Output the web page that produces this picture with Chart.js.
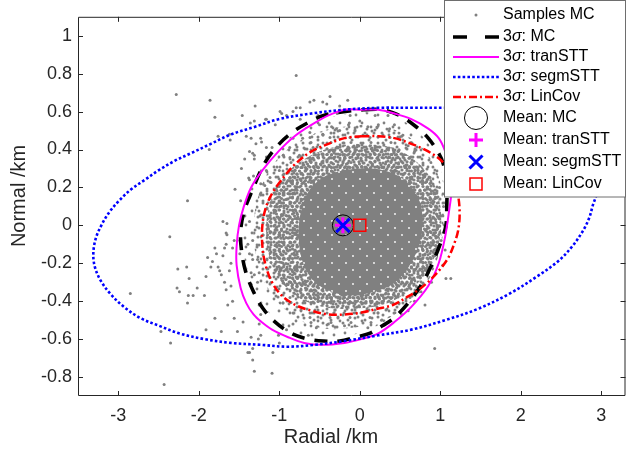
<!DOCTYPE html>
<html>
<head>
<meta charset="utf-8">
<script src="https://cdn.jsdelivr.net/npm/chart.js@4.4.1/dist/chart.umd.min.js"></script>
<style>
    html, body { margin: 0; padding: 0; background: #fff; }
</style>
</head>
<body>
<canvas id="chart" width="638" height="457"></canvas>
<script>
// --- Ejes ---
const xTicks = [-3, -2, -1, 0, 1, 2, 3];
const yTicks = [-0.8, -0.6, -0.4, -0.2, 0, 0.2, 0.4, 0.6, 0.8, 1];
const xTitle = "Radial /km";
const yTitle = "Normal /km";

// --- Muestras MC (puntos sueltos) ---
const samplesMC = [
    [-2.28, 0.69], [-1.86, 0.66], [-1.80, 0.57], [-1.46, 0.58], [-1.30, 0.63], [-1.36, 0.54], [-1.31, 0.55],
    [-1.62, 0.48], [-1.76, 0.47], [-1.61, 0.45], [-1.41, 0.47], [-1.35, 0.46], [-1.23, 0.46], [-1.29, 0.43],
    [-1.87, 0.40], [-1.33, 0.38], [-1.31, 0.37], [-1.43, 0.35], [-1.31, 0.35], [-1.47, 0.30], [-1.32, 0.26],
    [-1.38, 0.25], [-1.23, 0.22], [-1.55, 0.19], [-2.14, 0.13], [-1.48, 0.13], [-1.23, 0.16],
    [-0.79, 0.79], [-0.37, 0.68], [-0.62, 0.65], [-0.57, 0.66], [-0.46, 0.65], [-0.41, 0.64], [-0.15, 0.66],
    [-0.25, 0.63], [-0.99, 0.60], [-0.91, 0.58], [-0.83, 0.60], [-0.74, 0.62], [-0.52, 0.58], [-0.28, 0.59],
    [-0.12, 0.58], [0.00, 0.55], [0.19, 0.58], [0.35, 0.58], [0.43, 0.53], [0.37, 0.51], [-1.17, 0.56],
    [-1.05, 0.53], [-1.22, 0.44], [-1.09, 0.41], [-0.74, 0.56], [-0.35, 0.52], [-0.25, 0.50], [-0.14, 0.53],
    [0.10, 0.52], [0.23, 0.53], [0.52, 0.47], [0.60, 0.42], [0.68, 0.39], [0.72, 0.29], [0.81, 0.26],
    [0.83, 0.23], [0.68, 0.26], [0.89, 0.18], [0.93, 0.14], [0.85, 0.12], [0.66, 0.36], [0.48, 0.33],
    [-1.16, 0.56], [-0.97, 0.59], [-0.79, 0.62], [-2.36, -0.06], [-1.70, 0.02], [-1.66, -0.04], [-1.37, 0.39],
    [-1.37, 0.24], [-1.16, 0.36], [-1.16, 0.41], [-1.16, 0.29], [-1.18, 0.21], [-1.00, 0.29], [-0.95, 0.37],
    [-0.87, 0.41], [-0.83, 0.46], [-0.71, 0.46], [-0.62, 0.49], [-0.50, 0.53], [-0.38, 0.54], [-0.29, 0.51],
    [-0.13, 0.54], [-0.46, 0.48], [-0.58, 0.41], [-0.75, 0.37], [-1.04, 0.19], [-1.08, 0.12], [-1.24, 0.05],
    [-1.37, 0.02], [-1.33, -0.08], [-1.49, -0.15], [-1.66, -0.10], [-1.78, -0.15],
    [-2.26, -0.23], [-2.15, -0.22], [-2.12, -0.28], [-2.27, -0.33], [-2.24, -0.35], [-2.13, -0.37], [-2.07, -0.37],
    [-2.14, -0.41], [-2.02, -0.33], [-2.85, -0.36], [-2.47, -0.56], [-2.35, -0.62], [-2.43, -0.84], [-1.93, -0.37],
    [-1.91, -0.55], [-1.89, -0.17], [-1.83, -0.19], [-1.85, -0.22], [-1.91, -0.27], [-1.80, -0.12], [-1.76, -0.22],
    [-1.74, -0.24], [-1.72, -0.26], [-1.65, 0.01], [-1.65, -0.05], [-1.68, -0.12], [-1.70, -0.16], [-1.68, -0.30],
    [-1.66, -0.34], [-1.64, -0.42], [-1.80, -0.49], [-1.72, -0.56], [-1.56, -0.49], [-1.52, -0.56], [-1.45, -0.51],
    [-1.35, -0.59], [-1.37, -0.67], [-1.33, -0.71], [-1.31, -0.77], [-1.33, -0.65], [-1.60, -0.32], [-1.58, -0.40],
    [-1.62, -0.24], [-1.60, -0.20], [-1.58, -0.12], [-1.56, -0.08], [-1.49, -0.08], [-1.39, -0.10], [-1.37, -0.15],
    [-1.35, -0.25], [-1.31, -0.26], [-1.33, -0.18], [-1.27, -0.18], [-1.25, -0.25], [-1.27, -0.30], [-1.35, -0.31],
    [-1.25, -0.42], [-1.23, -0.47], [-1.23, -0.58], [-1.25, -0.52], [-1.26, -0.60], [-1.39, -0.67], [-1.08, -0.67],
    [-1.00, -0.62], [-1.09, -0.78],
    [0.93, -0.65], [0.81, -0.42], [0.89, -0.30], [1.03, -0.21], [1.01, -0.08], [-1.01, -0.58], [-0.91, -0.55],
    [-0.64, -0.58], [-0.83, -0.52], [-0.54, -0.54], [-0.39, -0.52], [-0.19, -0.53], [0.10, -0.54], [0.27, -0.50],
    [0.52, -0.47], [0.68, -0.40], [0.60, -0.45], [0.76, -0.35], [0.85, -0.25], [0.93, -0.16], [0.91, -0.08],
    [0.97, -0.01], [1.01, 0.05], [1.07, -0.28], [1.13, -0.28], [1.04, 0.10], [1.06, -0.13], [0.99, 0.20]
];

// --- Densidad de la nube MC (contornos) ---
const cloudSparse = [
    [0.00, 0.60], [0.45, 0.57], [0.80, 0.46], [1.00, 0.30], [1.06, 0.10], [1.02, -0.08], [0.88, -0.25],
    [0.62, -0.40], [0.30, -0.51], [-0.10, -0.58], [-0.50, -0.60], [-0.85, -0.56], [-1.15, -0.45], [-1.35, -0.30],
    [-1.45, -0.12], [-1.45, 0.05], [-1.35, 0.20], [-1.15, 0.35], [-0.85, 0.47], [-0.45, 0.56], [0.00, 0.60]
];
const cloudMid = [
    [0.00, 0.53], [0.40, 0.51], [0.75, 0.42], [0.96, 0.28], [1.04, 0.10], [1.01, -0.08], [0.90, -0.25],
    [0.65, -0.40], [0.30, -0.50], [-0.10, -0.54], [-0.50, -0.54], [-0.85, -0.47], [-1.12, -0.35], [-1.28, -0.18],
    [-1.32, 0.00], [-1.25, 0.17], [-1.08, 0.32], [-0.80, 0.43], [-0.45, 0.50], [0.00, 0.53]
];
const cloudDense = [
    [0.00, 0.43], [0.40, 0.41], [0.72, 0.33], [0.93, 0.21], [1.01, 0.06], [0.99, -0.08], [0.88, -0.21],
    [0.68, -0.32], [0.35, -0.41], [-0.05, -0.44], [-0.45, -0.43], [-0.80, -0.37], [-1.05, -0.25], [-1.15, -0.10],
    [-1.15, 0.05], [-1.05, 0.18], [-0.85, 0.30], [-0.55, 0.38], [-0.25, 0.42], [0.00, 0.43]
];
const cloudCore = [
    [-0.72, 0.09], [-0.65, 0.17], [-0.50, 0.24], [-0.30, 0.28], [0.00, 0.30], [0.30, 0.29], [0.52, 0.25],
    [0.68, 0.18], [0.76, 0.10], [0.78, 0.00], [0.73, -0.11], [0.62, -0.21], [0.44, -0.30], [0.18, -0.35],
    [-0.13, -0.37], [-0.41, -0.34], [-0.60, -0.28], [-0.72, -0.18], [-0.76, -0.06], [-0.75, 0.03], [-0.72, 0.09]
];

// --- Elipses 3 sigma ---
const ellipseMC = [
    [0.05, 0.61], [0.27, 0.61], [0.49, 0.58], [0.70, 0.52], [0.85, 0.46], [0.98, 0.38], [1.04, 0.32],
    [1.08, 0.22], [1.08, 0.10], [1.07, 0.00], [1.03, -0.06], [0.97, -0.13], [0.88, -0.22], [0.77, -0.31],
    [0.60, -0.41], [0.42, -0.49], [0.28, -0.53], [0.12, -0.57], [-0.05, -0.59], [-0.25, -0.61], [-0.45, -0.61],
    [-0.64, -0.60], [-0.85, -0.57], [-1.05, -0.51], [-1.20, -0.44], [-1.32, -0.35], [-1.42, -0.24], [-1.47, -0.13],
    [-1.48, -0.03], [-1.44, 0.07], [-1.35, 0.17], [-1.18, 0.33], [-1.00, 0.43], [-0.84, 0.49], [-0.65, 0.54],
    [-0.45, 0.58], [-0.20, 0.60], [0.05, 0.61]
];
const ellipseTranSTT = [
    [0.02, 0.61], [0.23, 0.61], [0.43, 0.59], [0.64, 0.56], [0.85, 0.51], [0.98, 0.46], [1.06, 0.39],
    [1.12, 0.29], [1.14, 0.19], [1.11, 0.08], [1.06, -0.06], [0.98, -0.20], [0.85, -0.32], [0.64, -0.43],
    [0.43, -0.51], [0.23, -0.57], [0.02, -0.60], [-0.19, -0.62], [-0.47, -0.63], [-0.69, -0.62], [-0.89, -0.59],
    [-1.09, -0.55], [-1.22, -0.51], [-1.32, -0.47], [-1.41, -0.41], [-1.48, -0.33], [-1.53, -0.21], [-1.53, -0.11],
    [-1.50, 0.00], [-1.44, 0.10], [-1.35, 0.20], [-1.21, 0.29], [-1.01, 0.39], [-0.81, 0.47], [-0.60, 0.53],
    [-0.39, 0.58], [-0.19, 0.61], [0.02, 0.61]
];
const ellipseSegmSTT = [
    [2.89, 0.10], [2.96, 0.20], [2.93, 0.30], [2.80, 0.40], [2.55, 0.50], [2.20, 0.57], [1.80, 0.61],
    [1.45, 0.62], [1.06, 0.62], [0.64, 0.62], [0.23, 0.62], [-0.19, 0.61], [-0.60, 0.59], [-1.01, 0.56],
    [-1.30, 0.52], [-1.60, 0.48], [-1.85, 0.43], [-2.10, 0.38], [-2.30, 0.34], [-2.50, 0.29], [-2.67, 0.24],
    [-2.84, 0.19], [-2.99, 0.13], [-3.11, 0.07], [-3.21, 0.00], [-3.28, -0.07], [-3.31, -0.15], [-3.29, -0.22],
    [-3.22, -0.29], [-3.10, -0.36], [-2.93, -0.43], [-2.72, -0.49], [-2.49, -0.53], [-2.24, -0.57], [-1.93, -0.60],
    [-1.60, -0.62], [-1.23, -0.63], [-0.90, -0.64], [-0.55, -0.63], [-0.19, -0.61], [0.23, -0.58], [0.64, -0.55],
    [1.06, -0.50], [1.47, -0.44], [1.86, -0.36], [2.20, -0.27], [2.46, -0.19], [2.64, -0.11], [2.77, -0.03],
    [2.85, 0.04], [2.89, 0.10]
];
const ellipseLinCov = [
    [0.02, 0.47], [0.23, 0.47], [0.43, 0.46], [0.64, 0.43], [0.85, 0.39], [1.04, 0.33], [1.16, 0.25],
    [1.22, 0.16], [1.24, 0.06], [1.22, -0.03], [1.17, -0.10], [1.10, -0.17], [1.00, -0.23], [0.87, -0.29],
    [0.73, -0.34], [0.58, -0.38], [0.41, -0.42], [0.22, -0.44], [0.02, -0.46], [-0.19, -0.47], [-0.39, -0.47],
    [-0.60, -0.45], [-0.80, -0.42], [-0.97, -0.37], [-1.09, -0.30], [-1.17, -0.21], [-1.21, -0.11], [-1.21, 0.00],
    [-1.17, 0.09], [-1.10, 0.16], [-0.99, 0.23], [-0.81, 0.32], [-0.60, 0.39], [-0.39, 0.43], [-0.19, 0.46],
    [0.02, 0.47]
];

// --- Medias ---
const meanMC = [-0.21, 0.0];
const meanTranSTT = [-0.21, 0.0];
const meanSegmSTT = [-0.21, 0.0];
const meanLinCov = [0.0, 0.0];

const legendLabels = [
    "Samples MC", "3σ: MC", "3σ: tranSTT", "3σ: segmSTT", "3σ: LinCov",
    "Mean: MC", "Mean: tranSTT", "Mean: segmSTT", "Mean: LinCov"
];

// --- Estilos ---
const axisColor = "#262626";
const sampleColor = "#808080";
const fontFamily = "'Liberation Sans', Arial, sans-serif";

function makePattern(size, dots, r, color, bg) {
    const c = document.createElement("canvas");
    c.width = size;
    c.height = size;
    const g = c.getContext("2d");
    if (bg) {
        g.fillStyle = bg;
        g.fillRect(0, 0, size, size);
    }
    g.fillStyle = color;
    dots.forEach(([x, y]) => {
        g.beginPath();
        g.arc(x, y, r, 0, Math.PI * 2);
        g.fill();
    });
    return g.createPattern(c, "repeat");
}

const ctx0 = document.getElementById("chart").getContext("2d");
// texturas de puntos para las zonas densas (dos periodos superpuestos rompen la regularidad)
const patSparse = makePattern(22, [[4, 5], [15, 3], [10, 13], [19, 17], [3, 18]], 1.4, sampleColor);
const patMidA = makePattern(20, [[3, 3], [11, 2.5], [17, 7], [7, 9], [14, 13], [3, 15], [10, 17.5], [18, 17], [15, 10]], 1.5, sampleColor);
const patMidB = makePattern(17, [[4, 7], [12, 4], [8, 14], [15, 12]], 1.5, sampleColor);
const patDenseA = makePattern(16, [[2, 2], [7, 1.8], [12, 3], [4.5, 6], [9.5, 6.5], [14, 7.5], [2, 10], [7, 10.5],
    [11.5, 11], [4, 14], [9, 14.2], [14, 13.5]], 1.6, sampleColor);
const patDenseB = makePattern(13, [[2, 4], [6.5, 2], [11, 5], [4, 9], [8.5, 8], [11, 11], [2, 11.5], [6.5, 11.5]], 1.6, sampleColor);
const patCore = makePattern(14, [[3, 4], [10, 11]], 0.9, "#ffffff", sampleColor);

const toXY = (arr) => arr.map(([x, y]) => ({ x, y }));

function ellipseSet(data, color, width, dash) {
    return {
        data: toXY(data),
        borderColor: color,
        borderWidth: width,
        borderDash: dash,
        pointRadius: 0,
        fill: false,
        tension: 0.35,
        showLine: true,
    };
}

function cloudSet(data, pattern) {
    return {
        data: toXY(data),
        borderColor: "transparent",
        borderWidth: 0,
        backgroundColor: pattern,
        pointRadius: 0,
        fill: "shape",
        tension: 0.35,
        showLine: true,
    };
}

function meanSet(point, style, color, radius, width) {
    return {
        data: toXY([point]),
        showLine: false,
        pointStyle: style,
        pointRadius: radius,
        pointBorderColor: color,
        pointBackgroundColor: "transparent",
        pointBorderWidth: width,
    };
}

// indice 0 se dibuja encima
const datasets = [
    meanSet(meanLinCov, "rect", "#ff0000", 8.5, 1.5),
    meanSet(meanSegmSTT, "crossRot", "#0000ff", 9.5, 3),
    meanSet(meanTranSTT, "cross", "#ff00ff", 8, 3),
    meanSet(meanMC, "circle", "#000000", 10.5, 1),
    ellipseSet(ellipseLinCov, "#ff0000", 2.5, [8, 3, 2, 3]),
    ellipseSet(ellipseSegmSTT, "#0000ff", 2.6, [2.6, 2.2]),
    ellipseSet(ellipseTranSTT, "#ff00ff", 2, []),
    ellipseSet(ellipseMC, "#000000", 3.6, [13, 10]),
    {
        data: toXY(samplesMC),
        showLine: false,
        pointRadius: 1.5,
        pointBorderWidth: 0,
        pointBackgroundColor: sampleColor,
        pointBorderColor: sampleColor,
    },
    cloudSet(cloudCore, patCore),
    cloudSet(cloudDense, patDenseB),
    cloudSet(cloudDense, patDenseA),
    cloudSet(cloudMid, patMidB),
    cloudSet(cloudMid, patMidA),
    cloudSet(cloudSparse, patSparse),
];

// --- Caja, marcas hacia dentro y títulos de ejes ---
const boxPlugin = {
    id: "matlabBox",
    afterDatasetsDraw(chart) {
        const { ctx, chartArea: a, scales: { x, y } } = chart;
        ctx.save();
        ctx.strokeStyle = axisColor;
        ctx.lineWidth = 1;
        ctx.beginPath();
        ctx.rect(a.left + 0.5, a.top + 0.5, a.right - a.left - 1, a.bottom - a.top - 1);
        xTicks.forEach((v) => {
            const px = Math.round(x.getPixelForValue(v)) + 0.5;
            ctx.moveTo(px, a.bottom);
            ctx.lineTo(px, a.bottom - 5);
            ctx.moveTo(px, a.top);
            ctx.lineTo(px, a.top + 5);
        });
        yTicks.forEach((v) => {
            const py = Math.round(y.getPixelForValue(v)) + 0.5;
            ctx.moveTo(a.left, py);
            ctx.lineTo(a.left + 5, py);
            ctx.moveTo(a.right, py);
            ctx.lineTo(a.right - 5, py);
        });
        ctx.stroke();

        ctx.fillStyle = axisColor;
        ctx.font = "20px " + fontFamily;
        ctx.textAlign = "center";
        ctx.textBaseline = "alphabetic";
        ctx.fillText(xTitle, 331, 443);
        ctx.translate(19, 196);
        ctx.rotate(-Math.PI / 2);
        ctx.textBaseline = "middle";
        ctx.fillText(yTitle, 0, 0);
        ctx.restore();
    },
};

// --- Leyenda estilo MATLAB ---
const legendRows = [
    { kind: "dot", y: 15 },
    { kind: "line", y: 37, color: "#000000", width: 3.6, dash: [14, 18] },
    { kind: "line", y: 57, color: "#ff00ff", width: 2, dash: [] },
    { kind: "line", y: 77, color: "#0000ff", width: 2.6, dash: [2.6, 2.2] },
    { kind: "line", y: 97, color: "#ff0000", width: 2.5, dash: [8, 3, 2, 3] },
    { kind: "circle", y: 118 },
    { kind: "plus", y: 140 },
    { kind: "x", y: 162 },
    { kind: "square", y: 184 },
];

function drawLabel(ctx, text, x, y) {
    const parts = text.split("σ");
    ctx.font = "16px " + fontFamily;
    ctx.fillText(parts[0], x, y);
    if (parts.length < 2) return;
    x += ctx.measureText(parts[0]).width;
    ctx.font = "italic 16px " + fontFamily;
    ctx.fillText("σ", x, y);
    x += ctx.measureText("σ").width;
    ctx.font = "16px " + fontFamily;
    ctx.fillText(parts[1], x, y);
}

const legendPlugin = {
    id: "matlabLegend",
    afterDraw(chart) {
        const ctx = chart.ctx;
        ctx.save();
        ctx.fillStyle = "#ffffff";
        ctx.fillRect(444, 0, 182, 197);
        ctx.strokeStyle = "#6e6e6e";
        ctx.lineWidth = 1;
        ctx.strokeRect(444.5, 0.5, 181, 196.5);

        const mx = 476;
        legendRows.forEach((row, i) => {
            const y = row.y;
            ctx.setLineDash([]);
            if (row.kind === "dot") {
                ctx.fillStyle = sampleColor;
                ctx.beginPath();
                ctx.arc(mx, y, 1.5, 0, Math.PI * 2);
                ctx.fill();
            } else if (row.kind === "line") {
                ctx.strokeStyle = row.color;
                ctx.lineWidth = row.width;
                ctx.setLineDash(row.dash);
                ctx.beginPath();
                ctx.moveTo(453, y);
                ctx.lineTo(499, y);
                ctx.stroke();
            } else if (row.kind === "circle") {
                ctx.strokeStyle = "#000000";
                ctx.lineWidth = 1;
                ctx.beginPath();
                ctx.arc(mx, y, 11.5, 0, Math.PI * 2);
                ctx.stroke();
            } else if (row.kind === "plus") {
                ctx.strokeStyle = "#ff00ff";
                ctx.lineWidth = 3;
                ctx.beginPath();
                ctx.moveTo(mx - 7, y);
                ctx.lineTo(mx + 7, y);
                ctx.moveTo(mx, y - 7);
                ctx.lineTo(mx, y + 7);
                ctx.stroke();
            } else if (row.kind === "x") {
                ctx.strokeStyle = "#0000ff";
                ctx.lineWidth = 3;
                ctx.beginPath();
                ctx.moveTo(mx - 6.5, y - 6.5);
                ctx.lineTo(mx + 6.5, y + 6.5);
                ctx.moveTo(mx + 6.5, y - 6.5);
                ctx.lineTo(mx - 6.5, y + 6.5);
                ctx.stroke();
            } else if (row.kind === "square") {
                ctx.strokeStyle = "#ff0000";
                ctx.lineWidth = 1.5;
                ctx.strokeRect(mx - 6, y - 6, 12, 12);
            }
            ctx.fillStyle = "#000000";
            ctx.textAlign = "left";
            ctx.textBaseline = "middle";
            drawLabel(ctx, legendLabels[i], 503, y);
        });
        ctx.restore();
    },
};

new Chart(ctx0, {
    type: "line",
    data: { datasets: datasets },
    options: {
        responsive: false,
        animation: false,
        events: [],
        layout: { padding: { left: 0, right: 12, top: 0, bottom: 0 } },
        plugins: { legend: { display: false }, tooltip: { enabled: false } },
        scales: {
            x: {
                type: "linear",
                min: -3.5,
                max: 3.3,
                grid: { display: false, drawTicks: false },
                border: { display: false },
                ticks: {
                    padding: 9,
                    color: axisColor,
                    font: { family: fontFamily, size: 18 },
                    autoSkip: false,
                    maxRotation: 0,
                    callback: (v) => String(v),
                },
                afterBuildTicks: (s) => { s.ticks = xTicks.map((v) => ({ value: v })); },
                afterFit: (s) => { s.height = 61; },
            },
            y: {
                type: "linear",
                min: -0.9,
                max: 1.1,
                grid: { display: false, drawTicks: false },
                border: { display: false },
                ticks: {
                    padding: 6,
                    color: axisColor,
                    font: { family: fontFamily, size: 18 },
                    autoSkip: false,
                    callback: (v) => String(Math.round(v * 10) / 10),
                },
                afterBuildTicks: (s) => { s.ticks = yTicks.map((v) => ({ value: v })); },
                afterFit: (s) => { s.width = 78; },
            },
        },
    },
    plugins: [boxPlugin, legendPlugin],
});
</script>
</body>
</html>
